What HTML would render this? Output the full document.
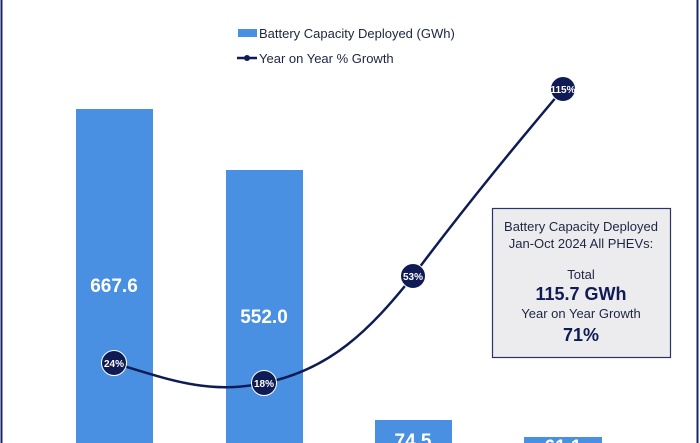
<!DOCTYPE html>
<html><head><meta charset="utf-8"><style>
html,body{margin:0;padding:0;background:#fff;}
svg{display:block;font-family:"Liberation Sans Narrow","Liberation Sans",sans-serif;}
</style></head><body>
<svg width="700" height="443" viewBox="0 0 700 443" xmlns="http://www.w3.org/2000/svg">
<rect x="0" y="0" width="700" height="443" fill="#fff"/>
<line x1="1.5" y1="0" x2="1.5" y2="443" stroke="#1a2466" stroke-width="2"/>
<line x1="697.5" y1="0" x2="697.5" y2="443" stroke="#1a2466" stroke-width="2"/>
<!-- legend -->
<rect x="238" y="29" width="19" height="8" fill="#4a90e2"/>
<text x="259" y="38" font-size="13" fill="#1e2540">Battery Capacity Deployed (GWh)</text>
<line x1="237" y1="58" x2="257" y2="58" stroke="#0f1b54" stroke-width="2.5"/>
<circle cx="247" cy="58" r="3" fill="#0f1b54"/>
<text x="259" y="63" font-size="13" fill="#1e2540">Year on Year % Growth</text>
<!-- bars -->
<rect x="76" y="109" width="77" height="340" fill="#4a90e2"/>
<rect x="226" y="170" width="77" height="280" fill="#4a90e2"/>
<rect x="375" y="420" width="77" height="30" fill="#4a90e2"/>
<rect x="524" y="437" width="78" height="10" fill="#4a90e2"/>
<g fill="#fff" font-weight="bold" font-size="19" text-anchor="middle">
<text x="114" y="292">667.6</text>
<text x="264" y="323">552.0</text>
<text x="413" y="447">74.5</text>
<text x="563" y="453">61.1</text>
</g>
<!-- line -->
<path d="M114,363 C170,380 210,395 264,383 C330,370 370,330 413,276 C470,200 520,140 563,89" fill="none" stroke="#0f1b54" stroke-width="2.5"/>
<g fill="#0f1b54" stroke="#fff" stroke-width="1">
<circle cx="114" cy="363" r="12.5"/>
<circle cx="264" cy="383" r="12.5"/>
<circle cx="413" cy="276" r="12.5"/>
<circle cx="563" cy="89" r="12.5"/>
</g>
<g fill="#fff" font-weight="bold" font-size="10" text-anchor="middle">
<text x="114" y="367">24%</text>
<text x="264" y="387">18%</text>
<text x="413" y="280">53%</text>
<text x="563" y="93">115%</text>
</g>
<!-- box -->
<rect x="492.5" y="208.5" width="178" height="149" fill="#ececef" stroke="#2a3566" stroke-width="1.2"/>
<g text-anchor="middle" fill="#1e2540">
<text x="581" y="231" font-size="13">Battery Capacity Deployed</text>
<text x="581" y="248" font-size="13">Jan-Oct 2024 All PHEVs:</text>
<text x="581" y="279" font-size="13">Total</text>
<text x="581" y="300" font-size="18" font-weight="bold" fill="#0f1b54">115.7 GWh</text>
<text x="581" y="318" font-size="13">Year on Year Growth</text>
<text x="581" y="341" font-size="18" font-weight="bold" fill="#0f1b54">71%</text>
</g>
</svg>
</body></html>
